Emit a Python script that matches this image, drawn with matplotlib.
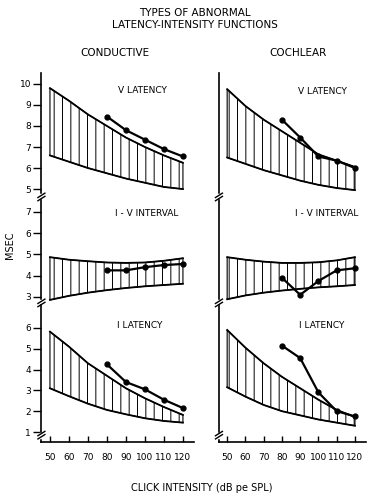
import matplotlib
matplotlib.use('Agg')
import matplotlib.pyplot as plt

plt.rcParams['font.family'] = ['DejaVu Sans']
plt.rcParams['hatch.linewidth'] = 0.7

intensity = [50, 60, 70, 80, 90, 100, 110, 120]
test_db = [80, 90, 100, 110, 120]
xtick_labels = ['50', '60', '70', '80', '90', '100', '110', '120']

# normal range (upper / lower edge) and patient data, conductive column
cond_v_hi = [9.8, 9.2, 8.55, 8.0, 7.45, 7.0, 6.6, 6.25]
cond_v_lo = [6.6, 6.3, 6.0, 5.75, 5.5, 5.3, 5.1, 5.0]
cond_iv_hi = [4.87, 4.75, 4.68, 4.62, 4.6, 4.62, 4.7, 4.82]
cond_iv_lo = [2.86, 3.05, 3.2, 3.32, 3.42, 3.5, 3.56, 3.62]
cond_i_hi = [5.82, 5.1, 4.3, 3.7, 3.1, 2.62, 2.2, 1.82]
cond_i_lo = [3.1, 2.72, 2.36, 2.06, 1.85, 1.66, 1.53, 1.45]
cond_v = [8.45, 7.8, 7.35, 6.9, 6.55]
cond_iv = [4.25, 4.25, 4.4, 4.5, 4.55]
cond_i = [4.25, 3.4, 3.05, 2.55, 2.15]

# cochlear column
coch_v_hi = [9.75, 8.95, 8.3, 7.75, 7.2, 6.65, 6.35, 6.05]
coch_v_lo = [6.5, 6.2, 5.9, 5.65, 5.4, 5.2, 5.05, 4.95]
coch_iv_hi = [4.87, 4.75, 4.66, 4.6, 4.6, 4.63, 4.72, 4.87]
coch_iv_lo = [2.89, 3.07, 3.2, 3.3, 3.38, 3.45, 3.5, 3.56]
coch_i_hi = [5.9, 5.05, 4.3, 3.65, 3.1, 2.55, 2.06, 1.72]
coch_i_lo = [3.15, 2.7, 2.3, 2.0, 1.8, 1.6, 1.45, 1.3]
coch_v = [8.3, 7.45, 6.55, 6.35, 6.0]
coch_iv = [3.9, 3.1, 3.75, 4.25, 4.35]
coch_i = [5.15, 4.55, 2.9, 2.0, 1.75]

panel_names = ['V LATENCY', 'I - V INTERVAL', 'I LATENCY']

W, H = 373, 500
fig = plt.figure(figsize=(W / 100, H / 100), dpi=100)

# rows: (bottom, height, ylim, yticks)
rows = [(0.6, 0.254, (4.48, 10.52), [5, 6, 7, 8, 9, 10]),
        (0.39, 0.21, (2.62, 7.56), [3, 4, 5, 6, 7]),
        (0.116, 0.274, (0.52, 7.1), [1, 2, 3, 4, 5, 6])]
cols = [(0.111, 0.410), (0.587, 0.394)]

bands = [[(cond_v_lo, cond_v_hi, cond_v), (cond_iv_lo, cond_iv_hi, cond_iv), (cond_i_lo, cond_i_hi, cond_i)],
         [(coch_v_lo, coch_v_hi, coch_v), (coch_iv_lo, coch_iv_hi, coch_iv), (coch_i_lo, coch_i_hi, coch_i)]]

label_pos = [[(0.663, 0.866), (0.69, 0.876), (0.644, 0.847)],
             [(0.702, 0.858), (0.736, 0.876), (0.702, 0.854)]]
break_y = [0.024, 0.02, 0.05]


def brk(ax, yf, wpx, hpx):
    dx = 3.5 / wpx
    dy = 2.2 / hpx
    gap = 1.6 / hpx
    ax.plot([0, 0], [yf - gap, yf + gap], transform=ax.transAxes, color='white',
            lw=2.5, clip_on=False, zorder=5)
    for off in (-gap, gap):
        ax.plot([-dx, dx], [yf + off - dy, yf + off + dy], transform=ax.transAxes,
                color='black', lw=1, clip_on=False, zorder=6)


for c, (cl, cw) in enumerate(cols):
    for r, (rb, rh, ylim, yt) in enumerate(rows):
        ax = fig.add_axes([cl, rb, cw, rh])
        lo, hi, pts = bands[c][r]
        ax.fill_between(intensity, lo, hi, facecolor='white', edgecolor='black',
                        hatch='||', linewidth=0.8)
        ax.plot(intensity, hi, color='black', lw=1.3)
        ax.plot(intensity, lo, color='black', lw=1.3)
        ax.plot(test_db, pts, '-o', color='black', lw=1.6, ms=3.5)
        ax.set_xlim(45.5, 126)
        ax.set_ylim(*ylim)
        ax.set_yticks(yt)
        ax.set_xticks(intensity)
        ax.spines['top'].set_visible(False)
        ax.spines['right'].set_visible(False)
        ax.spines['left'].set_linewidth(1.2)
        ax.patch.set_alpha(0)
        if r == 2:
            ax.spines['bottom'].set_linewidth(1.2)
            ax.set_xticklabels(xtick_labels)
            ax.tick_params(axis='x', direction='in', length=4, width=1, pad=8, labelsize=6.5)
        else:
            ax.spines['bottom'].set_visible(False)
            ax.tick_params(axis='x', bottom=False, labelbottom=False)
        if c == 0:
            ax.tick_params(axis='y', direction='out', length=6, width=1, pad=1.5, labelsize=6.5)
        else:
            ax.tick_params(axis='y', left=False, labelleft=False)
        lx, ly = label_pos[c][r]
        ax.text(lx, ly, panel_names[r], transform=ax.transAxes, ha='center', va='center',
                fontsize=6.5)
        brk(ax, break_y[r], cw * W, rh * H)

fig.text(0.523, 0.974, 'TYPES OF ABNORMAL', ha='center', va='center', fontsize=7.5)
fig.text(0.523, 0.95, 'LATENCY-INTENSITY FUNCTIONS', ha='center', va='center', fontsize=7.5)
fig.text(0.308, 0.894, 'CONDUCTIVE', ha='center', va='center', fontsize=7.5)
fig.text(0.80, 0.894, 'COCHLEAR', ha='center', va='center', fontsize=7.5)
fig.text(0.027, 0.51, 'MSEC', ha='center', va='center', rotation=90, fontsize=7)
fig.text(0.54, 0.024, 'CLICK INTENSITY (dB pe SPL)', ha='center', va='center', fontsize=7)

fig.savefig('out.png', dpi=100)
